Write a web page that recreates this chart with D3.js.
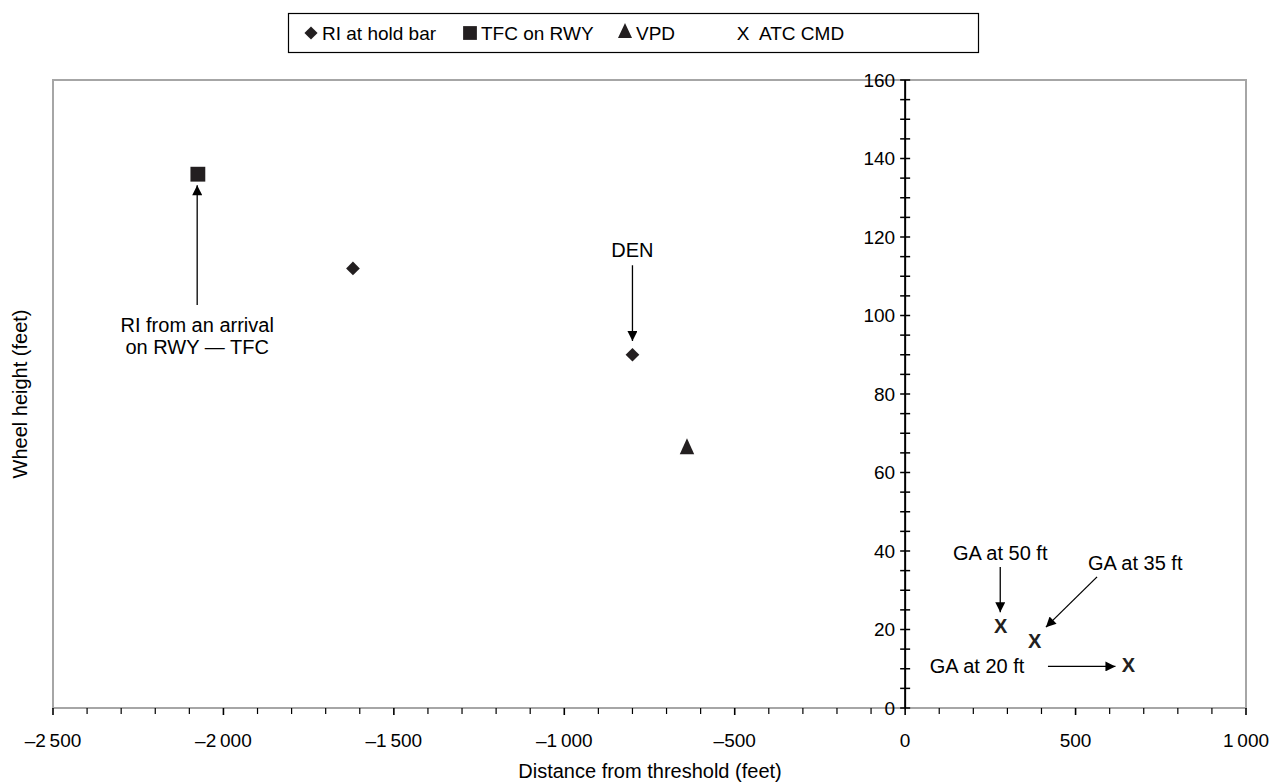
<!DOCTYPE html>
<meta charset="utf-8">
<title>Wheel height vs distance from threshold</title>
<script src="https://cdn.jsdelivr.net/npm/d3@7"></script>
<style>
  body { margin: 0; background: #fff; }
  text { font-family: "Liberation Sans", Arial, sans-serif; fill: #000; }
</style>
<body>
<div id="chart"></div>
<script>
// data
var holdBar = [{x: -1620, y: 112}, {x: -800, y: 90}];
var tfcOnRwy = [{x: -2075, y: 136}];
var vpd = [{x: -640, y: 66}];
var atcCmd = [{x: 280, y: 21}, {x: 380, y: 17}, {x: 655, y: 11}];

var xTicks = [-2500, -2000, -1500, -1000, -500, 0, 500, 1000];
var yTicks = [0, 20, 40, 60, 80, 100, 120, 140, 160];

// callouts: text at (tx, ty), arrow from (x1, y1) to (x2, y2), all in data units
var notes = [
  {lines: ["RI from an arrival", "on RWY \u2014 TFC"], tx: -2077, ty: 97.6, x1: -2077, y1: 102.7, x2: -2077, y2: 133.2},
  {lines: ["DEN"], tx: -800, ty: 116.7, x1: -800, y1: 112.8, x2: -800, y2: 93.5},
  {lines: ["GA at 50 ft"], tx: 279, ty: 39.5, x1: 279, y1: 35.9, x2: 279, y2: 24.4},
  {lines: ["GA at 35 ft"], tx: 675, ty: 36.9, x1: 563, y1: 33.4, x2: 413, y2: 20.6},
  {lines: ["GA at 20 ft"], tx: 211, ty: 10.6, x1: 419, y1: 10.6, x2: 617, y2: 10.6}
];

var W = 1278, H = 782;
var margin = {top: 80, right: 32, bottom: 74, left: 53};
var ink = "#231f20";

var svg = d3.select("#chart").append("svg")
  .attr("width", W).attr("height", H);

var x = d3.scaleLinear().domain([-2500, 1000]).range([margin.left, W - margin.right]);
var y = d3.scaleLinear().domain([0, 160]).range([H - margin.bottom, margin.top]);

var loc = d3.formatLocale({decimal: ".", thousands: "\u2009", grouping: [3], currency: ["", ""], minus: "\u2013"});
var fmt = loc.format(",d");

// grey frame
svg.append("rect")
  .attr("x", x(-2500)).attr("y", y(160))
  .attr("width", x(1000) - x(-2500)).attr("height", y(0) - y(160))
  .attr("fill", "none").attr("stroke", "#a6a6a6").attr("stroke-width", 2);

// x axis ticks along the bottom
var gx = svg.append("g").attr("transform", "translate(0," + y(0) + ")");
gx.selectAll("line")
  .data(d3.range(-2500, 1001, 100))
  .join("line")
  .attr("x1", function(d) { return x(d); }).attr("x2", function(d) { return x(d); })
  .attr("y1", 0).attr("y2", function(d) { return d % 500 === 0 ? 7 : 6; })
  .attr("stroke", "#000").attr("stroke-width", function(d) { return d % 500 === 0 ? 1.6 : 1.2; });
gx.selectAll("text")
  .data(xTicks)
  .join("text")
  .attr("x", function(d) { return x(d); })
  .attr("y", 39)
  .attr("text-anchor", "middle")
  .style("font-size", "19px")
  .text(function(d) { return fmt(d); });

// y axis at x = 0
var gy = svg.append("g").attr("transform", "translate(" + x(0) + ",0)");
gy.append("line")
  .attr("y1", y(0)).attr("y2", y(160))
  .attr("stroke", "#000").attr("stroke-width", 2);
gy.selectAll("line.tick")
  .data(d3.range(0, 161, 5))
  .join("line")
  .attr("class", "tick")
  .attr("x1", -5).attr("x2", 5)
  .attr("y1", function(d) { return y(d); }).attr("y2", function(d) { return y(d); })
  .attr("stroke", "#000").attr("stroke-width", 1.5);
gy.selectAll("text")
  .data(yTicks)
  .join("text")
  .attr("x", -10)
  .attr("y", function(d) { return y(d); })
  .attr("dy", "0.36em")
  .attr("text-anchor", "end")
  .style("font-size", "19px")
  .text(function(d) { return d; });

// axis titles
svg.append("text")
  .attr("x", 650).attr("y", 778)
  .attr("text-anchor", "middle").style("font-size", "20px")
  .text("Distance from threshold (feet)");
svg.append("text")
  .attr("transform", "translate(27," + ((y(0) + y(160)) / 2) + ") rotate(-90)")
  .attr("text-anchor", "middle").style("font-size", "20px")
  .text("Wheel height (feet)");

// arrowhead
svg.append("defs").append("marker")
  .attr("id", "head")
  .attr("viewBox", "0 0 10 10")
  .attr("refX", 10).attr("refY", 5)
  .attr("markerWidth", 16).attr("markerHeight", 10)
  .attr("markerUnits", "userSpaceOnUse")
  .attr("orient", "auto")
  .append("path").attr("d", "M0,0L10,5L0,10Z").attr("fill", "#000");

// callouts
var note = svg.append("g").selectAll("g").data(notes).join("g");
note.append("line")
  .attr("x1", function(d) { return x(d.x1); }).attr("y1", function(d) { return y(d.y1); })
  .attr("x2", function(d) { return x(d.x2); }).attr("y2", function(d) { return y(d.y2); })
  .attr("stroke", "#000").attr("stroke-width", 1.3)
  .attr("marker-end", "url(#head)");
note.each(function(d) {
  var g = d3.select(this);
  d.lines.forEach(function(t, i) {
    g.append("text")
      .attr("x", x(d.tx)).attr("y", y(d.ty) + i * 22)
      .attr("dy", "0.35em")
      .attr("text-anchor", "middle")
      .style("font-size", "20px")
      .text(t);
  });
});

// points
var diamond = d3.symbol().type(d3.symbolDiamond2).size(120);
var square = d3.symbol().type(d3.symbolSquare).size(220);
var triangle = d3.symbol().type(d3.symbolTriangle).size(90);

svg.append("g").selectAll("path")
  .data(holdBar).join("path")
  .attr("transform", function(d) { return "translate(" + x(d.x) + "," + y(d.y) + ")"; })
  .attr("d", diamond).attr("fill", ink);
svg.append("g").selectAll("path")
  .data(tfcOnRwy).join("path")
  .attr("transform", function(d) { return "translate(" + x(d.x) + "," + y(d.y) + ")"; })
  .attr("d", square).attr("fill", ink);
svg.append("g").selectAll("path")
  .data(vpd).join("path")
  .attr("transform", function(d) { return "translate(" + x(d.x) + "," + y(d.y) + ") scale(1,1.3)"; })
  .attr("d", triangle).attr("fill", ink);
svg.append("g").selectAll("text")
  .data(atcCmd).join("text")
  .attr("x", function(d) { return x(d.x); }).attr("y", function(d) { return y(d.y); })
  .attr("dy", "0.36em")
  .attr("text-anchor", "middle")
  .style("font-size", "20px").style("font-weight", "bold").style("fill", ink)
  .text("X");

// legend
var lg = svg.append("g");
lg.append("rect")
  .attr("x", 288.5).attr("y", 13.5).attr("width", 690).attr("height", 39)
  .attr("fill", "#fff").attr("stroke", "#000").attr("stroke-width", 1.2);
var legendItems = [
  {label: "RI at hold bar", kind: "diamond", at: 311},
  {label: "TFC on RWY", kind: "square", at: 470},
  {label: "VPD", kind: "triangle", at: 625},
  {label: "ATC CMD", kind: "x", at: 743}
];
legendItems.forEach(function(it) {
  var cy = 33;
  if (it.kind === "x") {
    lg.append("text").attr("x", it.at).attr("y", cy).attr("dy", "0.36em")
      .attr("text-anchor", "middle").style("font-size", "19px").text("X");
  } else {
    var sym = it.kind === "diamond" ? d3.symbol().type(d3.symbolDiamond2).size(110)
      : it.kind === "square" ? d3.symbol().type(d3.symbolSquare).size(190)
      : d3.symbol().type(d3.symbolTriangle).size(85);
    lg.append("path")
      .attr("transform", "translate(" + it.at + "," + cy + ")" + (it.kind === "triangle" ? " scale(1,1.25)" : ""))
      .attr("d", sym).attr("fill", ink);
  }
  lg.append("text")
    .attr("x", it.at + (it.kind === "x" ? 16 : 11)).attr("y", cy).attr("dy", "0.36em")
    .style("font-size", "19px")
    .text(it.label);
});
</script>
</body>
